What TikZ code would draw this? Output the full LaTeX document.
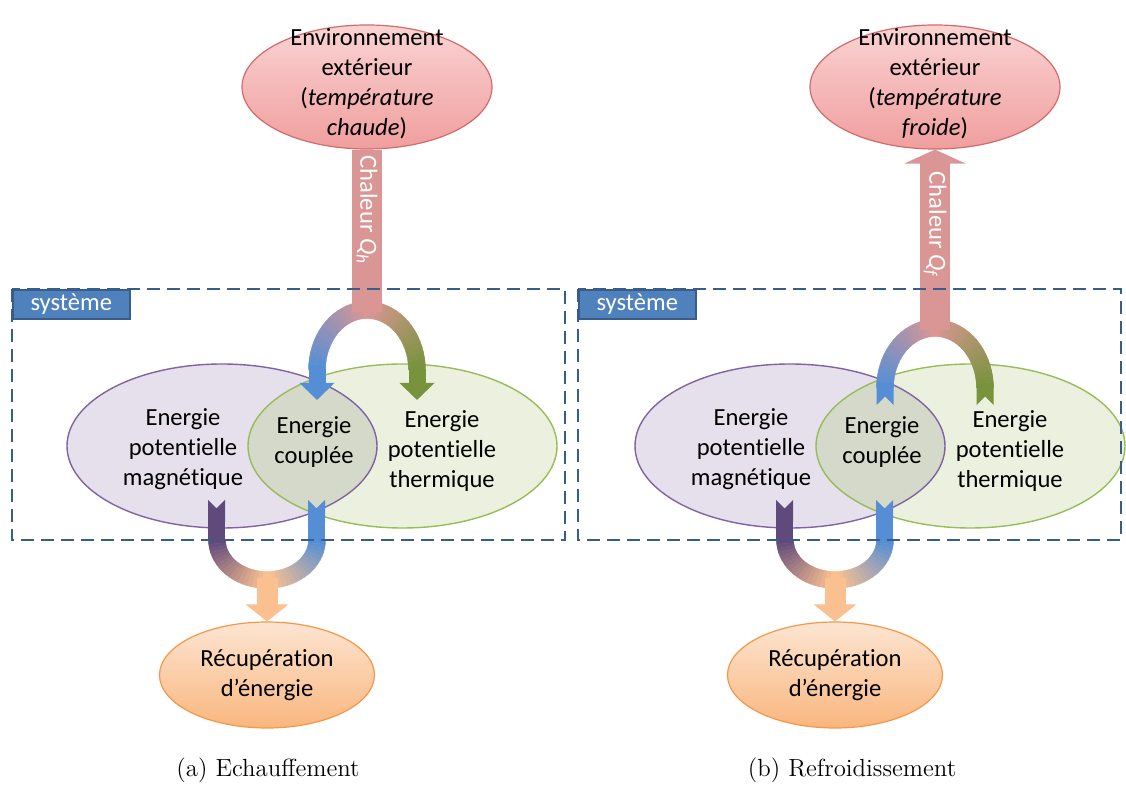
\documentclass[tikz,border=0pt]{standalone}
\usepackage{fontspec}
\newfontfamily\calib[Ligatures=NoCommon]{Carlito}
\usetikzlibrary{arrows.meta,shapes.geometric}

\definecolor{envtop}{HTML}{FAD3D3}
\definecolor{envbot}{HTML}{F09E9E}
\definecolor{envline}{HTML}{D26B6A}
\definecolor{heatcol}{HTML}{D99694}
\definecolor{magfill}{HTML}{E5E0EC}
\definecolor{magline}{HTML}{8064A2}
\definecolor{thermfill}{HTML}{EBF1DE}
\definecolor{thermline}{HTML}{9BBB59}
\definecolor{lensfill}{HTML}{D4D9CA}
\definecolor{bluearrow}{HTML}{558ED5}
\definecolor{greenarrow}{HTML}{77933C}
\definecolor{magarrow}{HTML}{604A7B}
\definecolor{outcol}{HTML}{FAC090}
\definecolor{rectop}{HTML}{FDE5D2}
\definecolor{recbot}{HTML}{F9B67E}
\definecolor{recline}{HTML}{F79646}
\definecolor{tagfill}{HTML}{4F81BD}
\definecolor{tagline}{HTML}{385D8A}
\definecolor{frameline}{HTML}{385D8A}

\tikzset{
    txt/.style={font=\calib\fontsize{12.3}{15}\selectfont, align=center, inner sep=0pt},
    env/.style={ellipse, draw=envline, line width=0.6pt, top color=envtop,
                bottom color=envbot, minimum width=125pt, minimum height=62pt, inner sep=0pt},
    recup/.style={txt, ellipse, draw=recline, line width=0.6pt, top color=rectop,
                  bottom color=recbot, minimum width=107.5pt, minimum height=53pt},
    magn/.style={ellipse, fill=magfill, minimum width=155pt, minimum height=82pt, inner sep=0pt},
    therm/.style={ellipse, fill=thermfill, minimum width=154.5pt, minimum height=82pt, inner sep=0pt},
    systag/.style={txt, fill=tagfill, draw=tagline, line width=0.8pt, text=white,
                   minimum width=58.5pt, minimum height=14.5pt, anchor=north west},
    sysframe/.style={draw=frameline, line width=1.2pt, dash pattern=on 6.5pt off 3.5pt},
    heat/.style={line width=15pt, draw=heatcol},
    heatlabel/.style={txt, text=white, rotate=-90},
    fluxhead/.style={line width=8.5pt, -{Triangle[length=8.5pt,width=17pt]}},
    fluxtail/.style={line width=8.5pt, {Triangle Cap[reversed]}-},
    outflow/.style={line width=10.5pt, draw=outcol, -{Triangle[length=8.5pt,width=21pt]}},
    subcap/.style={font=\fontsize{12.4}{14}\selectfont},
}

% quarter of a flow band (centre x, centre y, half height, angles), colour fading from #6 to #7
\newcommand{\fluxarc}[7]{%
    \foreach \k in {0,...,17}{%
        \pgfmathsetmacro{\ta}{#4+(#5-#4)*\k/18}%
        \pgfmathsetmacro{\tb}{#4+(#5-#4)*(\k+1)/18}%
        \pgfmathtruncatemacro{\mixpct}{100*\k/17}%
        \colorlet{fluxcol}{#7!\mixpct!#6}%
        \fill[fluxcol, draw=fluxcol, line width=0.2pt]
            ({#1+58.5*cos(\ta)},{#2-(#3+8.5)*sin(\ta)}) -- ({#1+58.5*cos(\tb)},{#2-(#3+8.5)*sin(\tb)})
            -- ({#1+41.5*cos(\tb)},{#2-(#3-8.5)*sin(\tb)}) -- ({#1+41.5*cos(\ta)},{#2-(#3-8.5)*sin(\ta)}) -- cycle;
    }}

\begin{document}
\begin{tikzpicture}[x=0.5pt, y=-0.5pt]
    \useasboundingbox (0,0) rectangle (1126,785);

    % both panels: system energies and recovery
    \foreach \dx/\p in {0/a, 568/b}{
        \begin{scope}[xshift=\dx*0.5pt]
            \node[magn] (mag\p) at (222,446) {};
            \node[therm] (therm\p) at (402.5,446) {};
            \begin{scope}
                \clip (mag\p.center) ellipse [x radius=77.5pt, y radius=41pt];
                \fill[lensfill] (therm\p.center) ellipse [x radius=77.25pt, y radius=41pt];
            \end{scope}
            \draw[magline, line width=0.7pt] (mag\p.center) ellipse [x radius=77.5pt, y radius=41pt];
            \draw[thermline, line width=0.7pt] (therm\p.center) ellipse [x radius=77.25pt, y radius=41pt];
            \node[txt] (magtxt\p) at (183,449) {Energie\\potentielle\\magnétique};
            \node[txt] (coupl\p) at (314,442) {Energie\\couplée};
            \node[txt] (thermtxt\p) at (442,451) {Energie\\potentielle\\thermique};
            \node[recup] (recup\p) at (267,675) {Récupération\\d’énergie};
            \draw[fluxtail, magarrow] (216.5,500) -- (216.5,540);
            \draw[fluxtail, bluearrow] (316.5,500) -- (316.5,540);
            \fluxarc{267}{540}{40}{180}{270}{magarrow}{outcol}
            \fluxarc{267}{540}{40}{360}{270}{bluearrow}{outcol}
            \draw[outflow] (267,578) -- (recup\p.north);
        \end{scope}
    }

    % (a) heating
    \node[env] (enva) at (367,87) {};
    \node[txt] (envtxta) at (367,84) {Environnement\\extérieur\\(\textit{température}\\\textit{chaude})};
    \fluxarc{367}{370}{60}{90}{180}{heatcol}{bluearrow}
    \fluxarc{367}{370}{60}{90}{0}{heatcol}{greenarrow}
    \draw[fluxhead, bluearrow] (317,369) -- (317,400);
    \draw[fluxhead, greenarrow] (417,369) -- (417,400);
    \draw[heat] (enva.south) -- (367,312);
    \node[heatlabel] (heata) at (367,210) {Chaleur \textit{Q}\textsubscript{\textit{h}}};

    % (b) cooling
    \node[env] (envb) at (935,87) {};
    \node[txt] (envtxtb) at (935,84) {Environnement\\extérieur\\(\textit{température}\\\textit{froide})};
    \fluxarc{935}{388}{60}{90}{180}{heatcol}{bluearrow}
    \fluxarc{935}{388}{60}{90}{0}{heatcol}{greenarrow}
    \draw[fluxtail, bluearrow] (885,405) -- (885,387);
    \draw[fluxtail, greenarrow] (985,405) -- (985,387);
    \draw[heat, -{Triangle[length=7pt,width=30.5pt]}] (935,330) -- (envb.south);
    \node[heatlabel] (heatb) at (935,225) {Chaleur \textit{Q}\textsubscript{\textit{f}}};

    \draw[sysframe] (12,289) rectangle (565,540);
    \draw[sysframe] (578,289) rectangle (1121,540);
    \node[systag] (sysa) at (12,289) {système};
    \node[systag] (sysb) at (578,289) {système};

    \node[subcap] (capa) at (268,770) {(a) Echauffement};
    \node[subcap] (capb) at (852,770) {(b) Refroidissement};

\end{tikzpicture}
\end{document}
